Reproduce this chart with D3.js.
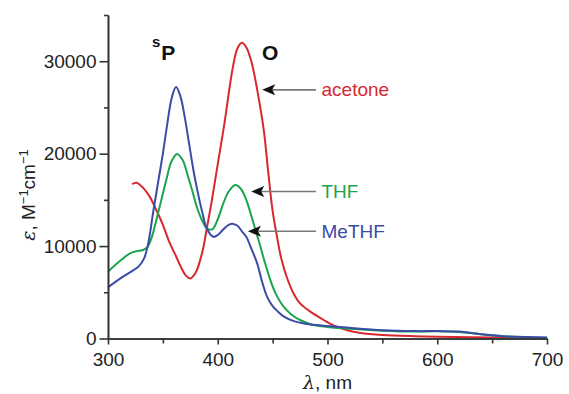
<!DOCTYPE html>
<html>
<head>
<meta charset="utf-8">
<script src="https://cdn.jsdelivr.net/npm/d3@7"></script>
<style>
  body { margin: 0; background: #fff; }
  text { font-family: "Liberation Sans", Arial, sans-serif; }
</style>
</head>
<body>
<div id="chart"></div>
<script>
// wavelength (nm) and epsilon values
const acetoneX = [322, 326, 332, 338, 344, 350, 356, 362, 367, 371, 375, 378, 381, 384, 387, 390, 394, 398, 402, 406, 410, 414, 418, 422, 426, 431, 437, 442, 446, 450, 454, 458, 463, 469, 475, 485, 496, 505, 518, 530, 550, 580, 600, 650, 700];
const acetoneY = [16700, 16860, 16300, 15350, 13900, 12300, 10400, 8900, 7600, 6800, 6500, 6800, 7400, 8500, 9900, 11900, 14500, 17400, 20300, 23200, 26500, 29500, 31400, 32000, 31500, 29800, 26200, 22500, 18000, 13800, 11000, 8600, 6600, 4900, 3800, 2850, 2050, 1450, 900, 600, 380, 250, 200, 100, 50];

const thfX = [300, 310, 320, 326, 332, 336, 340, 344, 348, 353, 358, 363, 368, 373, 377, 381, 386, 390, 395, 400, 405, 410, 416, 421, 426, 432, 438, 443, 448, 453, 460, 467, 475, 487, 500, 520, 550, 580, 600, 620, 640, 660, 680, 700];
const thfY = [7230, 8300, 9220, 9450, 9580, 9900, 11000, 12800, 14700, 17100, 19200, 19970, 19300, 17500, 15900, 14200, 12700, 11930, 11800, 12900, 14600, 15900, 16600, 16200, 15000, 12700, 10300, 8200, 6300, 4800, 3440, 2600, 2000, 1460, 1250, 1050, 850, 750, 780, 700, 450, 250, 150, 80];

const methfX = [300, 310, 320, 328, 333, 337, 341, 346, 350, 354, 358, 362, 366, 370, 374, 378, 382, 386, 390, 396, 400, 405, 410, 414, 418, 422, 426, 430, 436, 440, 445, 450, 455, 460, 470, 480, 490, 500, 520, 550, 580, 600, 620, 640, 660, 680, 700];
const methfY = [5540, 6400, 7150, 7800, 8700, 10500, 13550, 17150, 20000, 23200, 26000, 27200, 26200, 23900, 21000, 18100, 15700, 13600, 11900, 11000, 11200, 11800, 12300, 12400, 12200, 11600, 11000, 9900, 8100, 6300, 4500, 3500, 2900, 2400, 1850, 1600, 1450, 1350, 1150, 900, 800, 800, 750, 450, 250, 150, 100];

const seriesNames = ["acetone", "THF", "MeTHF"];
const seriesColors = ["#d7282f", "#1ba54c", "#3a4ca6"];
// arrow tip wavelength and epsilon for each label
const arrowTipX = [440.5, 430.5, 427.5];
const arrowTipY = [26900, 15900, 11600];

const xTicks = [300, 400, 500, 600, 700];
const xMinor = [350, 450, 550, 650];
const yTicks = [0, 10000, 20000, 30000];
const yMinor = [5000, 15000, 25000, 35000];

const W = 569, H = 394;
const margin = {top: 15, right: 22, bottom: 55.5, left: 108};
const width = W - margin.left - margin.right;
const height = H - margin.top - margin.bottom;

const svg = d3.select("#chart").append("svg")
  .attr("width", W)
  .attr("height", H);

const g = svg.append("g")
  .attr("transform", `translate(${margin.left},${margin.top})`);

const x = d3.scaleLinear().domain([300, 700]).range([0, width]);
const y = d3.scaleLinear().domain([0, 35000]).range([height, 0]);

// curves
const line = d3.line()
  .x(d => x(d[0]))
  .y(d => y(d[1]))
  .curve(d3.curveCatmullRom.alpha(0.5));

const series = [
  d3.zip(acetoneX, acetoneY),
  d3.zip(thfX, thfY),
  d3.zip(methfX, methfY)
];

series.forEach((s, i) => {
  g.append("path")
    .datum(s)
    .attr("fill", "none")
    .attr("stroke", seriesColors[i])
    .attr("stroke-width", 2)
    .attr("d", line);
});

// axes
const axisColor = "#333";
const xMinorAxis = d3.axisBottom(x).tickValues(xMinor).tickSize(5).tickFormat("").tickSizeOuter(0);
const xAxis = d3.axisBottom(x).tickValues(xTicks).tickSize(6).tickPadding(8).tickSizeOuter(0);
const yMinorAxis = d3.axisLeft(y).tickValues(yMinor).tickSize(4).tickFormat("").tickSizeOuter(0);
const yAxis = d3.axisLeft(y).tickValues(yTicks).tickSize(8.5).tickPadding(3).tickSizeOuter(0).tickFormat(d3.format("d"));

function styleAxis(sel) {
  sel.selectAll("path, line").attr("stroke", axisColor).attr("stroke-width", 1.6);
  sel.selectAll("text").attr("fill", "#222").style("font-size", "19px")
    .style("font-family", "'Liberation Sans', Arial, sans-serif");
}

g.append("g").attr("transform", `translate(0,${height})`).call(xMinorAxis).call(styleAxis);
g.append("g").attr("transform", `translate(0,${height})`).call(xAxis).call(styleAxis);
g.append("g").call(yMinorAxis).call(styleAxis);
g.append("g").call(yAxis).call(styleAxis);

// axis titles
const yLab = svg.append("text")
  .attr("transform", `translate(35,195) rotate(-90)`)
  .attr("text-anchor", "middle")
  .style("font-size", "19px")
  .attr("fill", "#222");
yLab.append("tspan").style("font-style", "italic").style("font-family", "'DejaVu Serif', serif").text("ε");
yLab.append("tspan").text(", M");
yLab.append("tspan").attr("dy", -7).style("font-size", "13px").text("−1");
yLab.append("tspan").attr("dy", 7).text("cm");
yLab.append("tspan").attr("dy", -7).style("font-size", "13px").text("−1");

const xLab = svg.append("text")
  .attr("x", margin.left + x(500))
  .attr("y", 389)
  .attr("text-anchor", "middle")
  .style("font-size", "19px")
  .attr("fill", "#222");
xLab.append("tspan").style("font-style", "italic").style("font-family", "'DejaVu Serif', serif").text("λ");
xLab.append("tspan").text(", nm");

// band labels
const sp = svg.append("text")
  .attr("x", 152)
  .attr("y", 60)
  .style("font-weight", "bold")
  .style("font-size", "21px")
  .attr("fill", "#111");
sp.append("tspan").attr("dy", -13).style("font-size", "15px").text("s");
sp.append("tspan").attr("dy", 13).attr("dx", 1).text("P");

svg.append("text")
  .attr("x", 262)
  .attr("y", 60)
  .style("font-weight", "bold")
  .style("font-size", "21px")
  .attr("fill", "#111")
  .text("O");

// arrows with labels
const lineEnd = 316;
seriesNames.forEach((name, i) => {
  const tx = margin.left + x(arrowTipX[i]);
  const ty = margin.top + y(arrowTipY[i]);
  svg.append("line")
    .attr("x1", tx + 8).attr("y1", ty)
    .attr("x2", lineEnd).attr("y2", ty)
    .attr("stroke", "#7a7a7a")
    .attr("stroke-width", 1.6);
  svg.append("path")
    .attr("d", `M${tx},${ty} L${tx + 13},${ty - 5.5} L${tx + 10},${ty} L${tx + 13},${ty + 5.5} Z`)
    .attr("fill", "#111");
  svg.append("text")
    .attr("x", lineEnd + 5.5)
    .attr("y", ty + 6.5)
    .style("font-size", "19px")
    .attr("fill", seriesColors[i])
    .text(name);
});
</script>
</body>
</html>
